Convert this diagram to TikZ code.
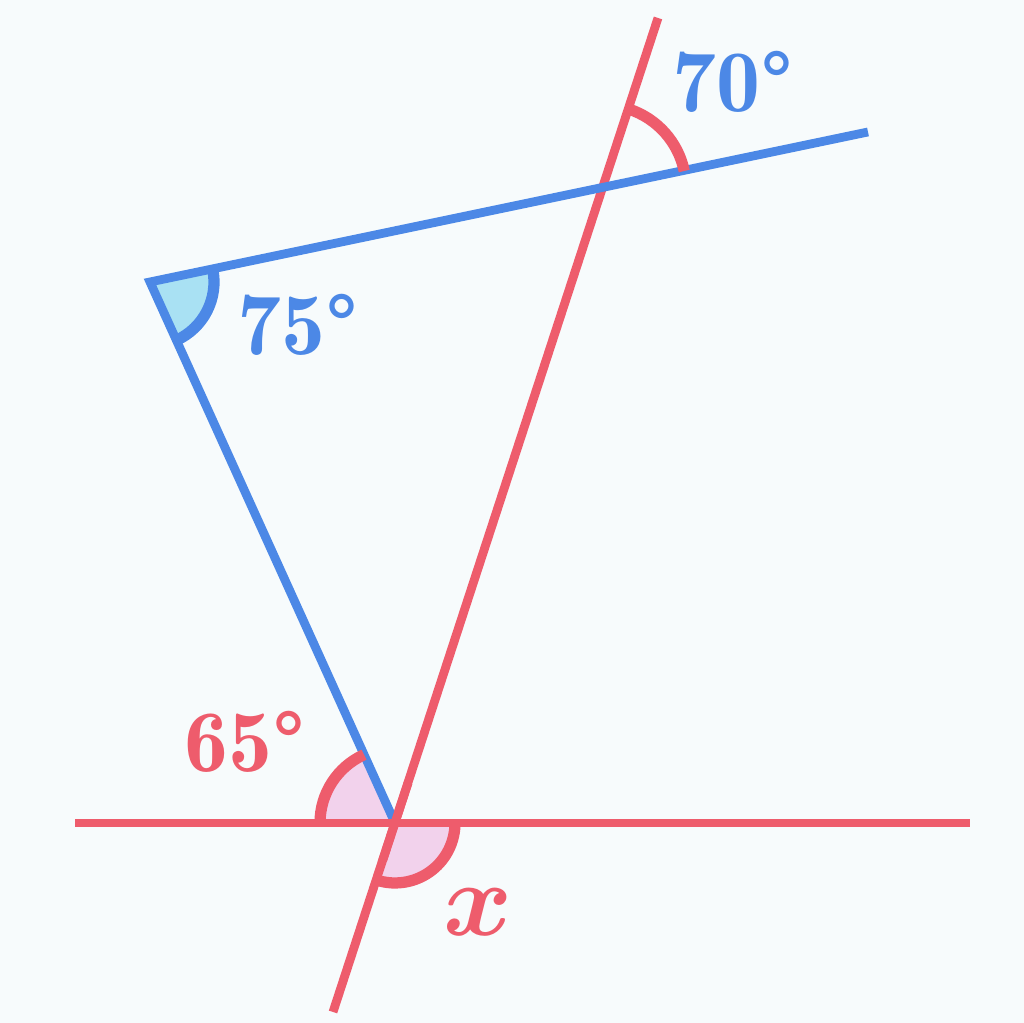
\documentclass[tikz,border=0pt]{standalone}
\usepackage{amsmath}
\usepackage{bm}
\usepackage{fontspec}
\usepackage{tikz}
\usetikzlibrary{calc}
\newfontfamily\demifont{Latin Modern Roman Demi}
\definecolor{redline}{HTML}{EE5C6C}
\definecolor{blueline}{HTML}{4C88E6}
\definecolor{pinkfill}{HTML}{F2D2EC}
\definecolor{cyanfill}{HTML}{A9E1F3}
\definecolor{paper}{HTML}{F7FBFC}

\begin{document}
\begin{tikzpicture}
[
	scale=1,
	redstroke/.style = {draw=redline, line width=2.5pt},
	bluestroke/.style = {draw=blueline, line width=2.5pt, line join=miter},
	anglearc/.style = {line width=3.2pt},
	lbl/.style = {font=\fontsize{25}{30}\selectfont\demifont, inner sep=0pt},
]
\fill[paper] (0,0) rectangle (10.24,10.23);
\useasboundingbox (0,0) rectangle (10.24,10.23);

\coordinate (A) at (1.50,7.41);
\coordinate (B) at (3.95,2.00);
\coordinate (C) at (6.03,8.35);
\coordinate (E) at (8.68,8.91);
\coordinate (T) at (6.58,10.05);
\coordinate (D) at (3.33,0.11);
\coordinate (L) at (0.75,2.00);
\coordinate (R) at (9.70,2.00);

% filled angles
\fill[pinkfill] (B) -- ++(114.4:0.75) arc[start angle=114.4, end angle=180, radius=0.75] -- cycle;
\fill[pinkfill] (B) -- ++(-108.1:0.6) arc[start angle=-108.1, end angle=0, radius=0.6] -- cycle;
\fill[cyanfill] (A) -- ++(-65.6:0.64) arc[start angle=-65.6, end angle=11.8, radius=0.64] -- cycle;

% lines
\draw[redstroke] (T) -- (D);
\draw[bluestroke] (B) -- (A) -- (E);
\draw[redstroke] (L) -- (R);
\draw[redstroke] ($(B)!0.05!(T)$) -- ($(B)!0.2!(D)$);

% arcs
\draw[redline,anglearc] ($(B)+(114.4:0.75)$) arc[start angle=114.4, end angle=180, radius=0.75];
\draw[redline,anglearc] ($(B)+(-108.1:0.6)$) arc[start angle=-108.1, end angle=0, radius=0.6];
\draw[blueline,anglearc] ($(A)+(-65.6:0.64)$) arc[start angle=-65.6, end angle=11.8, radius=0.64];
\draw[redline,anglearc] ($(C)+(11.8:0.83)$) arc[start angle=11.8, end angle=71.9, radius=0.83];

% labels
\node[lbl,text=blueline] (a70) at (7.33,9.41) {70°};
\node[lbl,text=blueline] (a75) at (2.98,6.98) {75°};
\node[lbl,text=redline] (a65) at (2.45,2.81) {65°};
\node[lbl,text=redline,scale=1.2] (ax) at (4.78,1.11) {$\bm{x}$};
\end{tikzpicture}
\end{document}
